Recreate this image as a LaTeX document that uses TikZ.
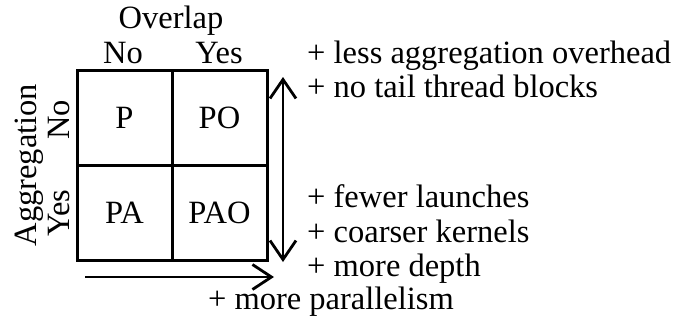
\documentclass[tikz,border=0pt]{standalone}
\usepackage{fontspec}
\setmainfont{Liberation Serif}
\usetikzlibrary{arrows.meta}

\begin{document}
\begin{tikzpicture}[x=1pt,y=-1pt,
  every node/.style={inner sep=0pt,font=\fontsize{32.5}{37}\selectfont},
  cell/.style={draw,line width=3pt,minimum width=95pt,minimum height=95pt},
  label/.style={anchor=base},
  note/.style={anchor=base west},
  span/.style={line width=2.6pt,{Straight Barb[length=19pt,width=26pt,line width=2.8pt]}-{Straight Barb[length=19pt,width=26pt,line width=2.8pt]}},
  onespan/.style={line width=2.6pt,-{Straight Barb[length=19pt,width=25pt,line width=2.8pt]}}]
  \useasboundingbox (0,0) rectangle (673,322);

  % the 2x2 grid of variants
  \node[cell] (p)   at (124.5,117.5) {P};
  \node[cell] (po)  at (219.5,117.5) {PO};
  \node[cell] (pa)  at (124.5,212.5) {PA};
  \node[cell] (pao) at (219.5,212.5) {PAO};

  % column headers
  \node[label] (ov)  at (171,28) {Overlap};
  \node[label] (ovn) at (123,63) {No};
  \node[label] (ovy) at (219,63) {Yes};

  % row headers, rotated
  \node[label,rotate=90] (ag)  at (36,165) {Aggregation};
  \node[label,rotate=90] (agn) at (69,120) {No};
  \node[label,rotate=90] (agy) at (69,213) {Yes};

  % direction arrows
  \coordinate (vt) at (283,77);
  \coordinate (vb) at (283,262);
  \coordinate (hl) at (85,277);
  \coordinate (hr) at (274,277);
  \draw[span] (vt) -- (vb);
  \draw[onespan] (hl) -- (hr);

  % benefits of each direction
  \node[note] (n1) at (307,63)  {+ less aggregation overhead};
  \node[note] (n2) at (307,97)  {+ no tail thread blocks};
  \node[note] (n3) at (307,207) {+ fewer launches};
  \node[note] (n4) at (307,242) {+ coarser kernels};
  \node[note] (n5) at (307,276) {+ more depth};
  \node[label] (n6) at (331,309) {+ more parallelism};
\end{tikzpicture}
\end{document}
